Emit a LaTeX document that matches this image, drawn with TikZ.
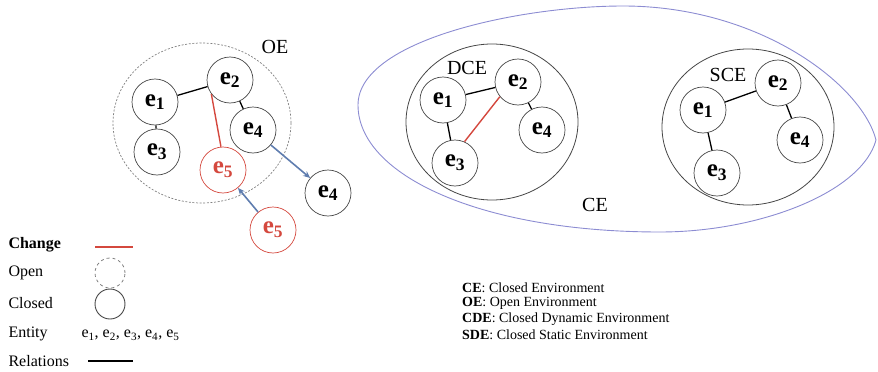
\documentclass[tikz,border=0pt]{standalone}
\usepackage{fontspec}
\setmainfont{Liberation Serif}
\usetikzlibrary{arrows.meta}
\definecolor{chred}{RGB}{212,72,62}
\definecolor{arrblue}{RGB}{95,125,175}
\definecolor{ceblue}{RGB}{140,140,210}
\definecolor{circgray}{RGB}{70,70,70}
\tikzset{
  ent/.style={circle,draw=circgray,line width=0.7pt,minimum size=46pt,inner sep=0pt,
    font=\fontsize{25}{25}\selectfont\bfseries},
  redent/.style={ent,draw=chred,text=chred},
  rel/.style={line width=1.3pt,black},
  chg/.style={line width=1.4pt,chred},
  mv/.style={line width=1.6pt,arrblue,-{Stealth[length=7pt,width=6pt]}},
  env/.style={draw=circgray,line width=0.8pt},
  lab/.style={font=\fontsize{20}{20}\selectfont},
  leg/.style={font=\fontsize{16}{16}\selectfont,anchor=west},
  note/.style={font=\fontsize{14}{14}\selectfont,anchor=west,inner sep=0pt}
}
\begin{document}
\begin{tikzpicture}[x=1pt,y=-1pt]
\useasboundingbox (0,0) rectangle (878,372);
% ---------- OE ----------
\draw[gray,line width=0.7pt,dash pattern=on 2pt off 1.6pt] (202,123) ellipse [x radius=89,y radius=80];
\node[lab] (oe) at (275,47) {OE};
\node[ent] (a1) at (155,102) {e\textsubscript{1}};
\node[ent] (a2) at (230,80) {e\textsubscript{2}};
\node[ent] (a4) at (253,130) {e\textsubscript{4}};
\node[ent] (a3) at (157,152) {e\textsubscript{3}};
\node[redent] (a5) at (223,170) {e\textsubscript{5}};
\node[ent] (b4) at (328,193) {e\textsubscript{4}};
\node[redent] (b5) at (273,230) {e\textsubscript{5}};
\draw[rel] (a1) -- (a2);
\draw[rel] (a1) -- (a3);
\draw[rel] (a2) -- (a4);
\draw[chg] (a2.217) -- (a5.95);
\draw[mv] (a4) -- (b4);
\draw[mv] (b5) -- (a5);
% ---------- CE ----------
\draw[ceblue,line width=0.9pt] (358,105) .. controls (358,40) and (520,6) .. (623,6)
  .. controls (760,6) and (862,85) .. (876,140)
  .. controls (862,192) and (760,232) .. (660,232)
  .. controls (480,232) and (358,175) .. (358,105) -- cycle;
\node[lab] (ce) at (595,205) {CE};
% DCE
\draw[env] (492,122) ellipse [x radius=86,y radius=78];
\node[lab] (dce) at (467,68) {DCE};
\node[ent] (d1) at (443,100) {e\textsubscript{1}};
\node[ent] (d2) at (518,82) {e\textsubscript{2}};
\node[ent] (d4) at (542,130) {e\textsubscript{4}};
\node[ent] (d3) at (455,163) {e\textsubscript{3}};
\draw[rel] (d1) -- (d2);
\draw[rel] (d1) -- (d3);
\draw[rel] (d2) -- (d4);
\draw[chg] (d2.219) -- (d3.66);
% SCE
\draw[env] (748,127) ellipse [x radius=86,y radius=78];
\node[lab] (sce) at (728,75) {SCE};
\node[ent] (s1) at (703,110) {e\textsubscript{1}};
\node[ent] (s2) at (778,83) {e\textsubscript{2}};
\node[ent] (s4) at (800,140) {e\textsubscript{4}};
\node[ent] (s3) at (717,173) {e\textsubscript{3}};
\draw[rel] (s1) -- (s2);
\draw[rel] (s1) -- (s3);
\draw[rel] (s2) -- (s4);
% ---------- legend ----------
\node[leg] (lchg) at (5,245) {\textbf{Change}};
\coordinate (c1) at (95,247); \coordinate (c2) at (133,247);
\draw[chg] (c1) -- (c2);
\node[leg] (lopen) at (5,273) {Open};
\node[circle,draw=gray,dashed,line width=0.8pt,minimum size=30pt,inner sep=0pt] (copen) at (110,273) {};
\node[leg] (lclosed) at (5,303) {Closed};
\node[circle,draw=circgray,line width=0.9pt,minimum size=30pt,inner sep=0pt] (cclosed) at (110,304) {};
\node[leg] (lent) at (5,334) {Entity};
\node[leg] (lentv) at (78,335) {e\textsubscript{1}, e\textsubscript{2}, e\textsubscript{3}, e\textsubscript{4}, e\textsubscript{5}};
\node[leg] (lrel) at (5,361) {Relations};
\coordinate (r1) at (88,361); \coordinate (r2) at (133,361);
\draw[rel] (r1) -- (r2);
% ---------- notes ----------
\node[note] (n1) at (462,288) {\textbf{CE}: Closed Environment};
\node[note] (n2) at (462,303) {\textbf{OE}: Open Environment};
\node[note] (n3) at (462,319) {\textbf{CDE}: Closed Dynamic Environment};
\node[note] (n4) at (462,335) {\textbf{SDE}: Closed Static Environment};
\end{tikzpicture}
\end{document}
